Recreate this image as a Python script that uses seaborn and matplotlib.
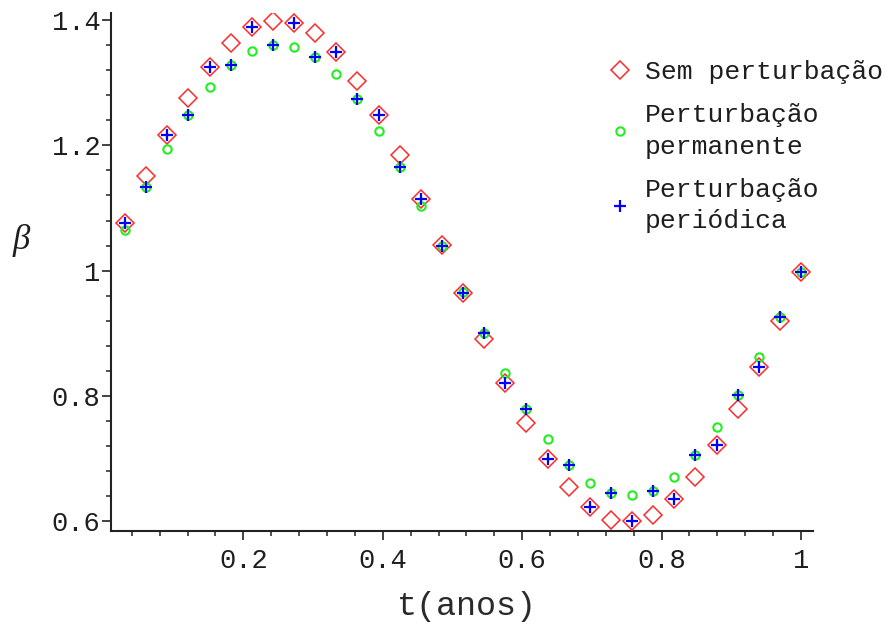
import numpy as np
import pandas as pd
import matplotlib
matplotlib.use("Agg")
import matplotlib.pyplot as plt
import seaborn as sns

# ---- data ----
t = [k / 33 for k in range(1, 34)]

sem_perturbacao = [1.0766, 1.1516, 1.2166, 1.2752, 1.3256, 1.3639, 1.3895, 1.3990,
                   1.3958, 1.3799, 1.3486, 1.3033, 1.2485, 1.1847, 1.1144, 1.0410,
                   0.9649, 0.8905, 0.8203, 0.7564, 0.6990, 0.6543, 0.6223, 0.6021,
                   0.6005, 0.6089, 0.6351, 0.6696, 0.7207, 0.7788, 0.8458, 0.9202,
                   0.9970]

perturbacao_permanente = [1.0650, 1.1328, 1.1943, 1.2485, 1.2937, 1.3283, 1.3507, 1.3603,
                          1.3575, 1.3416, 1.3135, 1.2741, 1.2235, 1.1660, 1.1038, 1.0400,
                          0.9660, 0.9006, 0.8362, 0.7788, 0.7309, 0.6899, 0.6607, 0.6447,
                          0.6409, 0.6484, 0.6696, 0.7058, 0.7500, 0.8016, 0.8627, 0.9266,
                          0.9980]

perturbacao_periodica = [1.0766, 1.1328, 1.2166, 1.2485, 1.3256, 1.3283, 1.3895, 1.3603,
                         1.3958, 1.3416, 1.3486, 1.2741, 1.2485, 1.1660, 1.1144, 1.0385,
                         0.9649, 0.9006, 0.8203, 0.7788, 0.6990, 0.6899, 0.6223, 0.6447,
                         0.6005, 0.6484, 0.6351, 0.7058, 0.7207, 0.8016, 0.8458, 0.9266,
                         0.9980]

labels = ["Sem perturbação", "Perturbação\npermanente", "Perturbação\nperiódica"]
x_ticks = [0.2, 0.4, 0.6, 0.8, 1.0]
x_ticklabels = ["0.2", "0.4", "0.6", "0.8", "1"]
y_ticks = [0.6, 0.8, 1.0, 1.2, 1.4]
y_ticklabels = ["0.6", "0.8", "1", "1.2", "1.4"]

df = pd.DataFrame({"t": t, "sem": sem_perturbacao,
                   "perm": perturbacao_permanente, "per": perturbacao_periodica})

# ---- figure ----
sns.set_theme(style="white")
plt.rcParams["font.family"] = ["Liberation Mono", "DejaVu Sans Mono"]

fig = plt.figure(figsize=(8.89, 6.27), dpi=100)
ax = fig.add_axes([111 / 889, 1 - 531 / 627, 702 / 889, (531 - 12.7) / 627])

sns.lineplot(data=df, x="t", y="sem", ax=ax, linestyle="", marker="D",
             markersize=9.0, markerfacecolor="none", markeredgecolor="#ff2a2a",
             markeredgewidth=1.1, color="#ff2a2a", label=labels[0], zorder=3)
sns.lineplot(data=df, x="t", y="perm", ax=ax, linestyle="", marker="o",
             markersize=6.0, markerfacecolor="none", markeredgecolor="#22ee22",
             markeredgewidth=1.5, color="#22ee22", label=labels[1], zorder=4)
sns.lineplot(data=df, x="t", y="per", ax=ax, linestyle="", marker="+",
             markersize=8.0, markerfacecolor="none", markeredgecolor="#0000ff",
             markeredgewidth=1.6, color="#0000ff", label=labels[2], zorder=5)

ax.set_xlim(0.0102, 1.0172)
ax.set_ylim(0.584, 1.412)

ax.set_xticks(x_ticks)
ax.set_xticklabels(x_ticklabels)
ax.set_yticks(y_ticks)
ax.set_yticklabels(y_ticklabels)
ax.set_xticks(np.arange(0.04, 1.0001, 0.04), minor=True)
ax.set_yticks(np.arange(0.6, 1.4001, 0.04), minor=True)

for s in ["top", "right"]:
    ax.spines[s].set_visible(False)
for s in ["left", "bottom"]:
    ax.spines[s].set_linewidth(1.5)
    ax.spines[s].set_color("#222222")

ax.tick_params(axis="both", which="both", bottom=True, left=True, top=False, right=False)
ax.tick_params(axis="both", which="major", direction="out", length=6.5, width=1.2,
               colors="#222222", labelsize=19.5, labelcolor="#1e1e1e")
ax.tick_params(axis="both", which="minor", direction="out", length=3.6, width=1.1,
               colors="#222222")
ax.tick_params(axis="x", which="major", pad=6)
ax.tick_params(axis="y", which="major", pad=1)
ax.grid(False)

ax.set_xlabel("t(anos)", fontsize=24, color="#2a2a2a")
ax.xaxis.set_label_coords(0.507, -0.115)
ax.set_ylabel("β", fontsize=25, rotation=0, color="#1e1e1e",
              family=["Liberation Serif", "DejaVu Serif"], style="italic",
              va="center", ha="center")
ax.yaxis.set_label_coords(-0.128, 0.561)

leg = ax.legend(loc="upper left", bbox_to_anchor=(608 / 889, 1 - 60 / 627),
                bbox_transform=fig.transFigure, frameon=False, fontsize=19,
                handlelength=0.9, handletextpad=0.5, labelspacing=0.72,
                borderpad=0, borderaxespad=0)
for txt in leg.get_texts():
    txt.set_color("#1e1e1e")
    txt.set_linespacing(1.4)

fig.savefig("out.png", dpi=100)
